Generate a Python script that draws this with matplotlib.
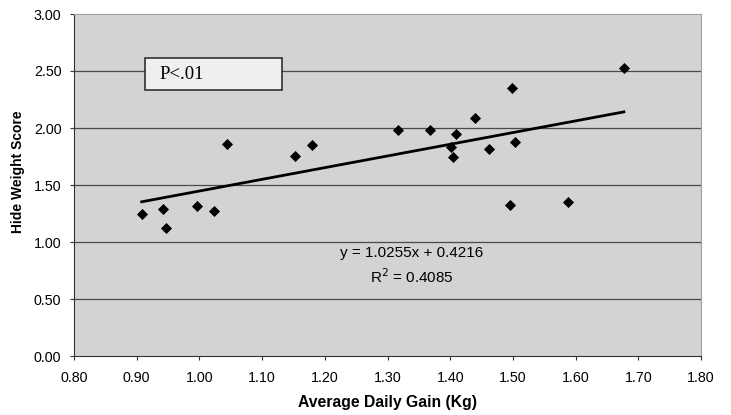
import matplotlib
matplotlib.use("Agg")
import matplotlib.pyplot as plt
from matplotlib.patches import Rectangle
import numpy as np

plt.rcParams['font.family'] = ['Liberation Sans', 'DejaVu Sans']

adg = [0.908, 0.942, 0.946, 0.996, 1.024, 1.044, 1.153, 1.180, 1.317, 1.367,
       1.401, 1.405, 1.410, 1.440, 1.462, 1.495, 1.498, 1.503, 1.588, 1.677]
hide = [1.245, 1.287, 1.120, 1.318, 1.275, 1.862, 1.754, 1.854, 1.979, 1.985,
        1.830, 1.749, 1.947, 2.084, 1.819, 1.325, 2.351, 1.877, 1.348, 2.529]
slope = 1.0255
intercept = 0.4216
r2 = 0.4085
xticks = [0.80, 0.90, 1.00, 1.10, 1.20, 1.30, 1.40, 1.50, 1.60, 1.70, 1.80]
yticks = [0.00, 0.50, 1.00, 1.50, 2.00, 2.50, 3.00]

W, H = 731, 415
fig = plt.figure(figsize=(W/100, H/100), dpi=100)
left, right, top, bottom = 74, 701, 14, 356
ax = fig.add_axes([left/W, 1-bottom/H, (right-left)/W, (bottom-top)/H])
ax.set_facecolor('#d3d3d3')

ax.set_xlim(0.80, 1.80)
ax.set_ylim(0.0, 3.0)
ax.set_xticks(xticks)
ax.set_xticklabels([f"{v:.2f}" for v in xticks])
ax.set_yticks(yticks)
ax.set_yticklabels([f"{v:.2f}" for v in yticks])
ax.tick_params(axis='both', labelsize=10.3, length=3, width=0.8, color='#333333')
ax.tick_params(axis='x', pad=8)
ax.tick_params(axis='y', pad=6)

for y in yticks[1:-1]:
    ax.axhline(y, color='#4a4a4a', lw=0.9, zorder=1)

ax.scatter(adg, hide, marker='D', s=32, color='black', zorder=3, linewidths=0)
xs = np.array([min(adg), max(adg)])
ax.plot(xs, slope*xs + intercept, color='black', lw=2.0, zorder=2)

ax.spines['left'].set_color('#333333')
ax.spines['bottom'].set_color('#333333')
ax.spines['top'].set_color('#a0a0a0')
ax.spines['right'].set_color('#a0a0a0')
ax.spines['top'].set_linewidth(0.8)
ax.spines['right'].set_linewidth(0.8)

ax.set_xlabel('Average Daily Gain (Kg)', fontsize=11.3, fontweight='bold', labelpad=7)
ax.set_ylabel('Hide Weight Score', fontsize=10, fontweight='bold', va='center')
ax.yaxis.set_label_coords(-0.089, 0.538)

ax.text(1.339, 0.903, f"y = {slope}x + {intercept}", fontsize=11,
        ha='center', va='center', zorder=4)
ax.text(1.339, 0.693, f"R$^2$ = {r2}", fontsize=11,
        ha='center', va='center', zorder=4)

ax.add_patch(Rectangle((0.913, 2.333), 0.219, 0.281, facecolor='#efefef',
                       edgecolor='#222222', lw=1.1, zorder=4))
ax.text(0.937, 2.47, "P<.01", fontsize=13.5, family='Liberation Serif',
        ha='left', va='center', zorder=5)

fig.savefig('out.png', dpi=100)
